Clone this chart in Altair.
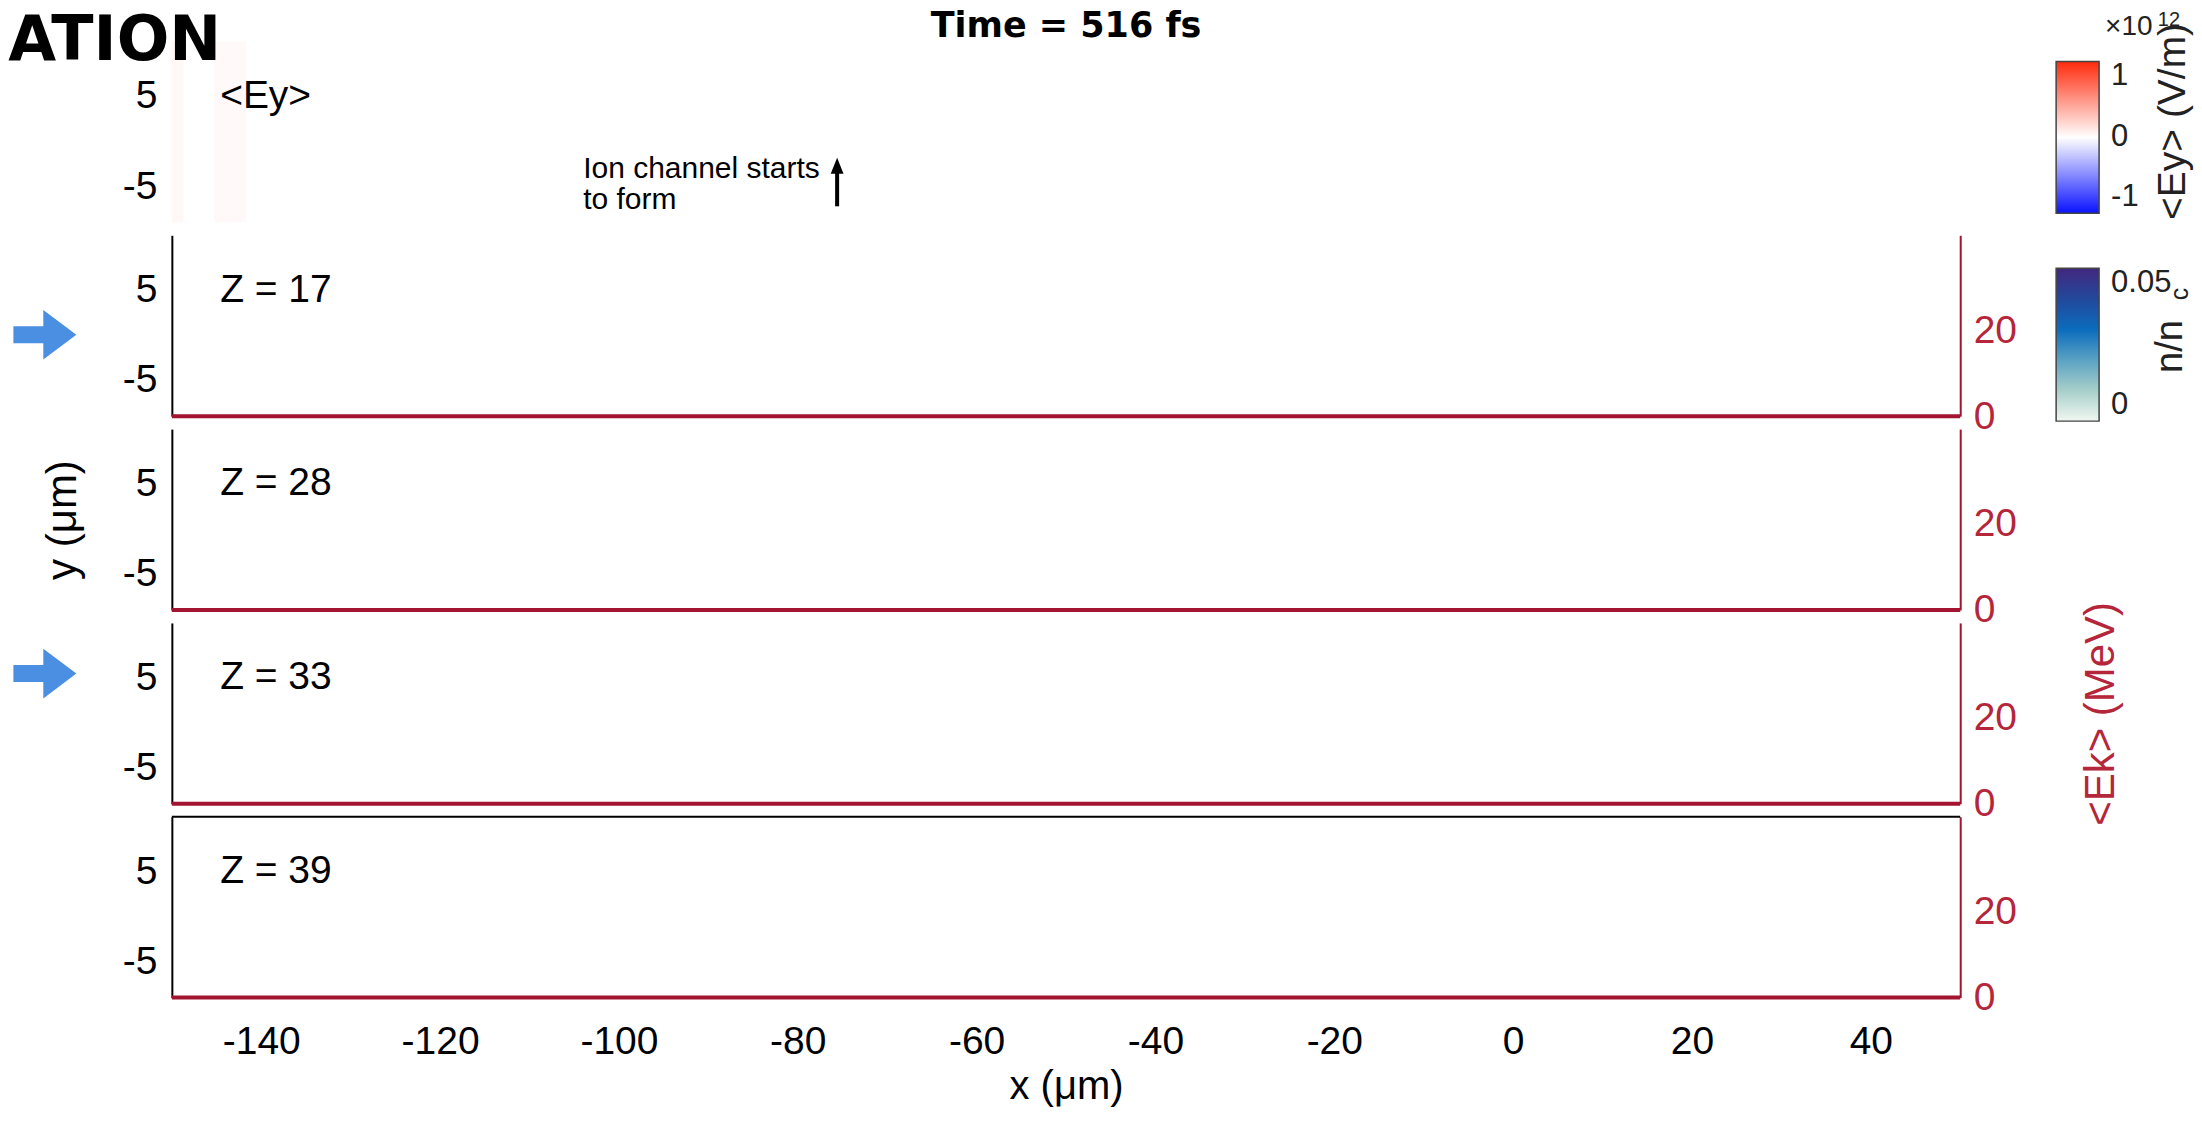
import altair as alt
import pandas as pd

# ---------------- data ----------------
z_values = [17, 28, 33, 39]
ek_x = [-150, -125, -100, -75, -50, -25, 0, 25, 50]
ek_z17 = [0, 0, 0, 0, 0, 0, 0, 0, 0]
ek_z28 = [0, 0, 0, 0, 0, 0, 0, 0, 0]
ek_z33 = [0, 0, 0, 0, 0, 0, 0, 0, 0]
ek_z39 = [0, 0, 0, 0, 0, 0, 0, 0, 0]

ey_x0 = [-150.0, -145.3]
ey_x1 = [-148.7, -141.7]
ey_val = [0.035, 0.025]          # x 10^12 V/m

dens_x0 = [-150.0]
dens_x1 = [50.0]
dens_val = [0.0]                 # n / n_c

x_ticks = [-140, -120, -100, -80, -60, -40, -20, 0, 20, 40]
y_ticks = [-5, 5]
ek_ticks = [0, 20]
ey_cbar_ticks = [-1, 0, 1]
dens_cbar_ticks = [0, 0.05]

X_DOM = [-150, 50]
Y_DOM = [-9, 11]
EK_DOM = [0, 42]

FONT = "Liberation Sans"
BOLD_FONT = "DejaVu Sans"
RED = "#A2142F"
RED_TXT = "#b5263b"
W, H = 1790, 181
FS = 39

xscale = alt.Scale(domain=X_DOM, nice=False, zero=False)
yscale = alt.Scale(domain=Y_DOM, nice=False, zero=False)
ekscale = alt.Scale(domain=EK_DOM, nice=False, zero=False)
ey_scale = alt.Scale(domain=[-1, 0, 1], range=["#0a12ff", "#ffffff", "#ff2a0c"], interpolate="rgb")
dens_scale = alt.Scale(domain=[0, 0.01, 0.02, 0.03, 0.04, 0.05],
                       range=["#f1f7f1", "#a7cfca", "#5aa2c3", "#0b6cbd", "#22489b", "#43287f"],
                       interpolate="rgb")

MINUS = "replace('' + datum.value, '\u2212', '-')"


def x_axis(show):
    if not show:
        return None
    return alt.Axis(values=x_ticks, labelFontSize=FS, labelPadding=25, ticks=False, tickSize=0,
                    domain=False, grid=False, labelColor="black", labelExpr=MINUS,
                    title="x (\u03bcm)", titleFontSize=40, titleFontWeight="normal",
                    titleColor="black", titlePadding=5)


def left_axis(title=None, domain=True):
    kw = dict(orient="left", values=y_ticks, labelFontSize=FS, labelPadding=15, ticks=False,
              tickSize=0, grid=False, domain=domain, domainColor="black", domainWidth=2,
              labelColor="black", labelExpr=MINUS)
    if title:
        kw.update(title=title, titleFontSize=42, titleFontWeight="normal", titleColor="black",
                  titlePadding=38)
    else:
        kw.update(title=None)
    return alt.Axis(**kw)


def right_axis(title=None):
    kw = dict(orient="right", values=ek_ticks, labelFontSize=FS, labelPadding=13, ticks=False,
              tickSize=0, grid=False, domainColor=RED, domainWidth=2, labelColor=RED_TXT,
              labelExpr=MINUS)
    if title:
        kw.update(title=title, titleFontSize=42, titleFontWeight="normal", titleColor=RED_TXT,
                  titleAngle=270, titlePadding=106)
    else:
        kw.update(title=None)
    return alt.Axis(**kw)


# legends are positioned relative to the first (Ey) panel's plot origin
ey_legend = alt.Legend(orient="none", legendX=1886, legendY=20, direction="vertical",
                       gradientLength=152, gradientThickness=43, values=ey_cbar_ticks,
                       labelFontSize=31, labelOffset=12, labelBaseline="middle", labelOverlap=False,
                       title=None, gradientStrokeColor="#444444", gradientStrokeWidth=1.5,
                       labelExpr=MINUS, padding=0, labelColor="#222222")
dens_legend = alt.Legend(orient="none", legendX=1886, legendY=227, direction="vertical",
                         gradientLength=153, gradientThickness=43, values=dens_cbar_ticks,
                         labelFontSize=31, labelOffset=12, labelBaseline="middle", labelOverlap=False,
                         title=None, gradientStrokeColor="#444444", gradientStrokeWidth=1.5,
                         labelExpr=MINUS, padding=0, labelColor="#222222")


def txt_layer(df, xa, ya, **mark):
    mark.setdefault("font", FONT)
    return alt.Chart(df).mark_text(**mark).encode(
        x=alt.X("x:Q", scale=xscale, axis=xa),
        y=alt.Y("y:Q", scale=yscale, axis=ya),
        text="t:N",
    )


# ---------------- Ey panel ----------------
ey_df = pd.DataFrame({"x0": ey_x0, "x1": ey_x1, "y0": [Y_DOM[0]] * len(ey_x0),
                      "y1": [Y_DOM[1]] * len(ey_x0), "ey": ey_val})
ax_ey_left = left_axis(domain=False)
ey_rect = alt.Chart(ey_df).mark_rect().encode(
    x=alt.X("x0:Q", scale=xscale, axis=None), x2="x1:Q",
    y=alt.Y("y0:Q", scale=yscale, axis=ax_ey_left), y2="y1:Q",
    color=alt.Color("ey:Q", scale=ey_scale, legend=ey_legend),
)
ey_layers = [ey_rect]
ey_layers.append(txt_layer(pd.DataFrame({"x": [-144.6], "y": [5], "t": ["<Ey>"]}), None, ax_ey_left,
                           fontSize=FS, align="left", baseline="middle", color="black"))
ey_layers.append(txt_layer(pd.DataFrame({"x": [-104.0], "y": [-4.14], "t": ["Ion channel starts\nto form"]}),
                           None, ax_ey_left, fontSize=30, align="left", baseline="alphabetic",
                           color="black", lineBreak="\n", lineHeight=31))
ey_layers.append(txt_layer(pd.DataFrame({"x": [-50], "y": [11.45], "t": ["Time = 516 fs"]}), None, ax_ey_left,
                           font=BOLD_FONT, fontSize=35, fontWeight="bold", align="center",
                           baseline="alphabetic", color="black"))
ey_layers.append(txt_layer(pd.DataFrame({"x": [-168.3], "y": [9.0], "t": ["ATION"]}), None, ax_ey_left,
                           font=BOLD_FONT, fontSize=62, fontWeight="bold", align="left",
                           baseline="alphabetic", color="black"))
ey_layers.append(txt_layer(pd.DataFrame({"x": [66.2], "y": [11.7], "t": ["\u00d710"]}), None, ax_ey_left,
                           fontSize=28, align="left", baseline="alphabetic", color="#222222"))
ey_layers.append(txt_layer(pd.DataFrame({"x": [72.1], "y": [12.7], "t": ["12"]}), None, ax_ey_left,
                           fontSize=20, align="left", baseline="alphabetic", color="#222222"))
ey_layers.append(txt_layer(pd.DataFrame({"x": [73.8], "y": [2.16], "t": ["<Ey> (V/m)"]}), None, ax_ey_left,
                           fontSize=39, align="center", baseline="middle", angle=270, color="#222222"))
# black annotation arrow
arrow_df = pd.DataFrame({"x": [-75.6], "y0": [-7.23], "y1": [-3.0], "yt": [-2.75]})
ey_layers.append(alt.Chart(arrow_df).mark_rule(color="black", strokeWidth=4).encode(
    x=alt.X("x:Q", scale=xscale, axis=None),
    y=alt.Y("y0:Q", scale=yscale, axis=ax_ey_left), y2="y1:Q"))
ey_layers.append(alt.Chart(arrow_df).mark_point(
    shape="M 0 -1 L 0.8 1 L -0.8 1 Z", size=256, filled=True, color="black", opacity=1).encode(
    x=alt.X("x:Q", scale=xscale, axis=None),
    y=alt.Y("yt:Q", scale=yscale, axis=ax_ey_left)))
ey_panel = alt.layer(*ey_layers).properties(width=W, height=H)

# ---------------- Z panels ----------------
ek_series = [ek_z17, ek_z28, ek_z33, ek_z39]
blue_arrow_y = {17: 0.0, 33: 5.4}
BLUE_SHAPE = "M -1 -0.27 L -0.05 -0.27 L -0.05 -0.79 L 1 0 L -0.05 0.79 L -0.05 0.27 L -1 0.27 Z"

panels = [ey_panel]
for i, (z, ek) in enumerate(zip(z_values, ek_series)):
    last = i == len(z_values) - 1
    xa = x_axis(last)
    la = left_axis(title="y (\u03bcm)" if z == 28 else None)
    ra = right_axis(title="<Ek> (MeV)" if z == 33 else None)

    dens_df = pd.DataFrame({"x0": dens_x0, "x1": dens_x1, "y0": [Y_DOM[0]] * len(dens_x0),
                            "y1": [Y_DOM[1]] * len(dens_x0), "n": dens_val})
    inner = [alt.Chart(dens_df).mark_rect(fillOpacity=0).encode(
        x=alt.X("x0:Q", scale=xscale, axis=xa), x2="x1:Q",
        y=alt.Y("y0:Q", scale=yscale, axis=la), y2="y1:Q",
        fill=alt.Fill("n:Q", scale=dens_scale, legend=dens_legend),
    )]
    inner.append(txt_layer(pd.DataFrame({"x": [-144.6], "y": [5], "t": [f"Z = {z}"]}), xa, la,
                           fontSize=FS, align="left", baseline="middle", color="black"))
    if z == 17:
        # colour-bar title for the density map (n/n_c), sits beside the lower colour bar
        inner.append(txt_layer(pd.DataFrame({"x": [73.6], "y": [-1.3], "t": ["n/n"]}), xa, la,
                               fontSize=38, align="center", baseline="middle", angle=270, color="#222222"))
        inner.append(txt_layer(pd.DataFrame({"x": [74.6], "y": [4.5], "t": ["c"]}), xa, la,
                               fontSize=25, align="center", baseline="middle", angle=270, color="#222222"))
    if z in blue_arrow_y:
        inner.append(alt.Chart(pd.DataFrame({"x": [-164.2], "y": [blue_arrow_y[z]]})).mark_point(
            shape=BLUE_SHAPE, size=3969, filled=True, color="#4a8fe2", opacity=1).encode(
            x=alt.X("x:Q", scale=xscale, axis=xa),
            y=alt.Y("y:Q", scale=yscale, axis=la)))
    if last:
        inner.append(alt.Chart(pd.DataFrame({"y": [Y_DOM[1]]})).mark_rule(color="black", strokeWidth=2).encode(
            y=alt.Y("y:Q", scale=yscale, axis=la)))
    left_part = alt.layer(*inner)

    ek_df = pd.DataFrame({"x": ek_x, "ek": ek})
    ek_line = alt.Chart(ek_df).mark_line(color=RED, strokeWidth=4).encode(
        x=alt.X("x:Q", scale=xscale, axis=xa),
        y=alt.Y("ek:Q", scale=ekscale, axis=ra),
    )
    panel = alt.layer(left_part, ek_line).resolve_scale(y="independent").properties(width=W, height=H)
    panels.append(panel)

chart = alt.vconcat(*panels, spacing=13, bounds="flush").properties(
    padding={"left": 0, "top": 0, "right": 0, "bottom": 0}
).configure(font=FONT, view=alt.ViewConfig(stroke=None))

chart.save("out.html", embed_options={"renderer": "svg", "actions": False})
